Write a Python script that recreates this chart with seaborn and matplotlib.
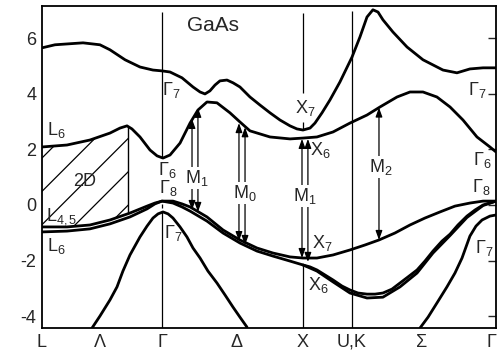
import matplotlib
matplotlib.use("Agg")
import matplotlib.pyplot as plt
import numpy as np
import pandas as pd
import seaborn as sns

# ---------------- data (k in units of 2*pi/a along path, E in eV) ----------------
sym_k = [-0.851, -0.440, 0.0, 0.532, 1.0, 1.348, 1.844, 2.369]
sym_labels = ["L", "Λ", "Γ", "Δ", "X", "U,K", "Σ", "Γ"]

# upper conduction band
c2_k = [-0.851, -0.759, -0.674, -0.560, -0.440, -0.369, -0.262, -0.156, -0.064, 0.0,
        0.057, 0.142, 0.220, 0.270, 0.305, 0.340, 0.376, 0.411, 0.461, 0.504, 0.553,
        0.624, 0.695, 0.766, 0.837, 0.908, 0.957, 1.0, 1.050, 1.085, 1.135, 1.191,
        1.262, 1.348, 1.404, 1.454, 1.496, 1.532, 1.567, 1.638, 1.738, 1.851, 1.993,
        2.092, 2.184, 2.277, 2.369]
c2_E = [5.66, 5.77, 5.80, 5.84, 5.77, 5.59, 5.23, 4.97, 4.86, 4.83,
        4.79, 4.58, 4.25, 4.07, 4.00, 4.11, 4.32, 4.47, 4.50, 4.40, 4.25,
        3.89, 3.60, 3.32, 3.06, 2.85, 2.74, 2.70, 2.77, 2.95, 3.32, 3.78,
        4.43, 5.33, 6.05, 6.77, 7.03, 6.95, 6.67, 6.23, 5.69, 5.23, 4.86,
        4.76, 4.90, 4.94, 4.94]

# lowest conduction band
c1_k = [-0.851, -0.674, -0.511, -0.369, -0.298, -0.248, -0.213, -0.156, -0.085, -0.035,
        0.007, 0.057, 0.128, 0.199, 0.255, 0.319, 0.390, 0.482, 0.553, 0.624, 0.766,
        0.908, 1.0, 1.099, 1.213, 1.333, 1.454, 1.546, 1.667, 1.759, 1.851, 1.950,
        2.043, 2.135, 2.234, 2.326, 2.369]
c1_E = [2.09, 2.16, 2.34, 2.59, 2.77, 2.85, 2.74, 2.45, 1.98, 1.77,
        1.69, 1.80, 2.23, 2.95, 3.42, 3.71, 3.68, 3.32, 2.99, 2.67, 2.45,
        2.38, 2.41, 2.45, 2.63, 2.95, 3.24, 3.53, 3.89, 4.07, 4.07, 3.89,
        3.53, 3.06, 2.45, 2.09, 1.91]

# top valence band (L4,5 - Gamma8 - X7 - Gamma8)
v1_k = [-0.851, -0.674, -0.511, -0.369, -0.227, -0.106, -0.050, 0.0,
        0.078, 0.142, 0.199, 0.319, 0.433, 0.553, 0.674, 0.787, 0.908, 1.0,
        1.099, 1.213, 1.333, 1.440, 1.539, 1.652, 1.759, 1.865, 1.972, 2.078,
        2.184, 2.277, 2.369]
v1_E = [-0.79, -0.79, -0.72, -0.54, -0.29, -0.04, 0.07, 0.14,
        0.14, 0.04, -0.07, -0.43, -0.90, -1.26, -1.55, -1.73, -1.87, -1.91,
        -1.91, -1.80, -1.62, -1.44, -1.26, -1.01, -0.72, -0.47, -0.25, -0.04,
        0.07, 0.14, 0.14]

# second valence band (L6 - Gamma8 - X6 - Gamma8)
v2_k = [-0.851, -0.674, -0.511, -0.369, -0.227, -0.106, -0.050, 0.0,
        0.078, 0.142, 0.199, 0.319, 0.433, 0.553, 0.674, 0.787, 0.908, 1.0,
        1.050, 1.099, 1.156, 1.213, 1.277, 1.333, 1.390, 1.454, 1.511, 1.567,
        1.631, 1.688, 1.745, 1.809, 1.865, 1.922, 1.986, 2.043, 2.099, 2.163,
        2.220, 2.277, 2.369]
v2_E = [-0.97, -0.94, -0.86, -0.68, -0.43, -0.14, 0.04, 0.14,
        0.07, -0.07, -0.22, -0.58, -1.01, -1.37, -1.66, -1.84, -2.02, -2.16,
        -2.23, -2.34, -2.52, -2.70, -2.92, -3.06, -3.17, -3.21, -3.21, -3.17,
        -3.03, -2.81, -2.59, -2.34, -2.02, -1.66, -1.30, -1.05, -0.72, -0.40,
        -0.18, 0.00, 0.14]

# third valence band along Sigma
v3_k = [1.0, 1.099, 1.213, 1.333, 1.454, 1.567, 1.688, 1.809, 1.922, 2.043,
        2.163, 2.277, 2.369]
v3_E = [-2.16, -2.38, -2.77, -3.17, -3.35, -3.32, -2.95, -2.45, -1.73, -1.10,
        -0.45, -0.02, 0.14]

# split-off / lower band around Gamma (left)
so_left_k = [-0.496, -0.440, -0.369, -0.319, -0.277, -0.227, -0.156, -0.106, -0.064,
             -0.028, 0.007, 0.043, 0.078, 0.128, 0.177, 0.220, 0.270, 0.326, 0.390,
             0.447, 0.504, 0.553, 0.603]
so_left_E = [-4.43, -4.00, -3.42, -2.95, -2.38, -1.80, -1.15, -0.76, -0.47,
             -0.32, -0.25, -0.32, -0.47, -0.79, -1.15, -1.55, -1.91, -2.38, -2.81,
             -3.24, -3.68, -4.04, -4.40]

# split-off band near the right Gamma
so_right_k = [1.830, 1.887, 1.950, 2.021, 2.078, 2.128, 2.184, 2.227, 2.270, 2.326, 2.369]
so_right_E = [-4.43, -4.04, -3.53, -2.95, -2.45, -1.91, -1.12, -0.76, -0.54, -0.40, -0.36]

# hatched 2D region between L and the Lambda saddle point
region_k = [-0.851, -0.759, -0.674, -0.511, -0.369, -0.298, -0.241]
region_top = [2.09, 2.12, 2.16, 2.34, 2.59, 2.77, 2.85]
region_bottom = [-0.79, -0.79, -0.79, -0.72, -0.54, -0.40, -0.30]

# vertical guide lines at symmetry points
guide_k = [0.0, 0.0, 0.0, 1.0, 1.0, 1.0, 1.348]
guide_top = [6.95, 0.05, -0.25, 6.92, 2.99, -2.16, 7.00]
guide_bottom = [1.69, -0.12, -4.43, 4.04, 2.70, -4.43, -4.43]

# transition arrows (critical points)
arrow_k = [0.213, 0.255, 0.546, 0.589, 0.993, 1.035, 1.539]
arrow_low = [-0.18, -0.25, -1.30, -1.44, -1.91, -2.05, -1.26]
arrow_high = [3.10, 3.50, 2.95, 2.80, 2.38, 2.38, 3.51]

crit_text = ["M$_1$", "M$_0$", "M$_1$", "M$_2$"]
crit_k = [0.248, 0.589, 1.014, 1.553]
crit_E = [0.97, 0.43, 0.32, 1.37]

label_text = ["L$_6$", "Γ$_7$", "Γ$_6$", "Γ$_8$", "Γ$_7$", "X$_7$", "X$_6$",
              "Γ$_7$", "Γ$_6$", "Γ$_8$", "Γ$_7$", "X$_7$", "X$_6$", "L$_{4,5}$",
              "L$_6$", "2D"]
label_k = [-0.752, 0.064, 0.035, 0.043, 0.078, 1.014, 1.121,
           2.234, 2.270, 2.262, 2.284, 1.135, 1.106, -0.709, -0.752, -0.546]
label_E = [2.70, 4.14, 1.26, 0.61, -1.01, 3.50, 1.98,
           4.14, 1.62, 0.65, -1.55, -1.37, -2.88, -0.43, -1.48, 0.86]

title_text = "GaAs"
title_k = 0.362
title_E = 6.45

y_ticks = [-4, -2, 0, 2, 4, 6]

# ---------------- style ----------------
sns.set_style("white")
plt.rcParams["font.family"] = ["Liberation Sans", "DejaVu Sans"]
plt.rcParams["mathtext.fontset"] = "custom"
plt.rcParams["mathtext.rm"] = "Liberation Sans"
plt.rcParams["mathtext.it"] = "Liberation Sans"
plt.rcParams["mathtext.bf"] = "Liberation Sans:bold"
plt.rcParams["axes.unicode_minus"] = False
plt.rcParams["hatch.linewidth"] = 0.9

# ---------------- build long table ----------------
segments = [("c2", c2_k, c2_E), ("c1", c1_k, c1_E), ("v1", v1_k, v1_E),
            ("v2", v2_k, v2_E), ("v3", v3_k, v3_E), ("soL", so_left_k, so_left_E),
            ("soR", so_right_k, so_right_E)]
df = pd.concat([pd.DataFrame({"k": k, "E": e, "seg": name}) for name, k, e in segments],
               ignore_index=True)

fig = plt.figure(figsize=(4.97, 3.52), dpi=100)
ax = fig.add_axes([0.0845, 0.0682, 0.9135, 0.915])

ax.fill_between(region_k, region_bottom, region_top, facecolor="none",
                edgecolor="black", hatch="/", linewidth=0)
ax.vlines(region_k[-1], region_bottom[-1], region_top[-1], color="black", lw=1.0)

ax.vlines(guide_k, guide_bottom, guide_top, color="black", lw=0.9)

sns.lineplot(data=df, x="k", y="E", units="seg", estimator=None, sort=False,
             color="black", lw=2.0, ax=ax, legend=False)

for k, lo, hi in zip(arrow_k, arrow_low, arrow_high):
    ax.annotate("", xy=(k, hi), xytext=(k, lo),
                arrowprops=dict(arrowstyle="<|-|>,head_length=0.55,head_width=0.2",
                                color="black", lw=0.9, shrinkA=0, shrinkB=0,
                                mutation_scale=10))

for t, k, e in zip(crit_text, crit_k, crit_E):
    ax.text(k, e, t, ha="center", va="center", fontsize=13, zorder=5,
            bbox=dict(facecolor="white", edgecolor="none", pad=0.5))

for t, k, e in zip(label_text, label_k, label_E):
    ax.text(k, e, t, ha="center", va="center", fontsize=13, zorder=5)

ax.text(title_k, title_E, title_text, ha="center", va="center", fontsize=15, zorder=5)

ax.set_xlim(sym_k[0], sym_k[-1])
ax.set_ylim(-4.43, 7.17)
ax.set_xlabel("")
ax.set_ylabel("")
ax.set_xticks(sym_k)
ax.set_xticklabels(sym_labels)
ax.get_xticklabels()[-1].set_horizontalalignment("right")
ax.set_xticks([arrow_k[-1]], minor=True)
ax.set_yticks(y_ticks)
ax.set_yticklabels([str(v) for v in y_ticks])
ax.tick_params(axis="x", which="major", length=0, labelsize=13, pad=4)
ax.tick_params(axis="x", which="minor", direction="in", length=5, width=1)
ax.tick_params(axis="y", direction="in", length=6, width=1, right=True,
               labelsize=13, pad=4)
for s in ax.spines.values():
    s.set_linewidth(1.3)
    s.set_color("black")

fig.savefig("out.png", dpi=100)
